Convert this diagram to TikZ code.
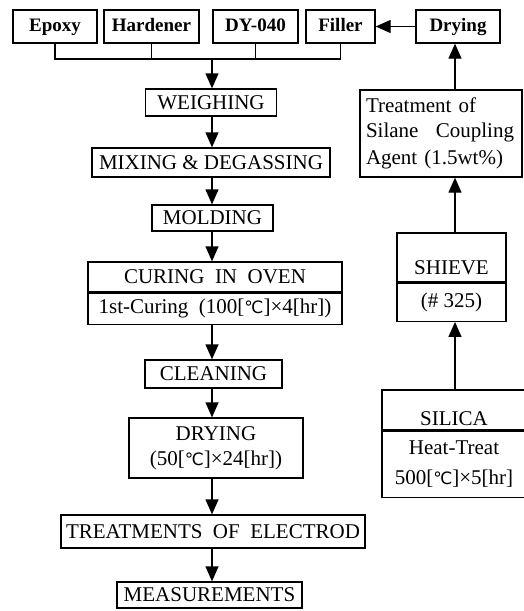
\documentclass[tikz,border=0pt]{standalone}
\usepackage{fontspec}
\setmainfont{Liberation Serif}
\newfontfamily\symfont{DejaVu Sans}
\usetikzlibrary{arrows.meta,positioning}
\newcommand{\degC}{{\symfont\fontsize{17}{17}\selectfont ℃}}

\begin{document}
\begin{tikzpicture}[x=1pt,y=-1pt,
    box/.style={draw,line width=1.3pt,inner sep=0pt,align=center,
      font=\fontsize{21}{25}\selectfont},
    inbox/.style={box,minimum height=33pt,text height=13pt,text depth=4pt,
      font=\bfseries\fontsize{19}{21}\selectfont},
    flow/.style={line width=1.3pt,-{Triangle[length=15pt,width=13pt]}}]
  \useasboundingbox (0,0) rectangle (523,611);
  \coordinate (spine) at (212,0);
  \coordinate (rspine) at (455,0);
  \coordinate (bus) at (212,59);

  % raw materials
  \node[inbox,minimum width=84pt] (epoxy) at (55,26.5) {Epoxy};
  \node[inbox,minimum width=95pt] (hardener) at (151.5,26.5) {Hardener};
  \node[inbox,minimum width=85pt] (dy040) at (255.5,26.5) {DY-040};
  \node[inbox,minimum width=69pt] (filler) at (340.5,26.5) {Filler};
  \node[inbox,minimum width=84pt] (sdry) at (458,26.5) {Drying};

  \draw[line width=1.3pt] (epoxy.south) |- (bus);
  \draw[line width=1.3pt] (filler.south) |- (bus);
  \draw[line width=1.3pt] (hardener.south) -- (hardener.south |- bus);
  \draw[line width=1.3pt] (dy040.south) -- (dy040.south |- bus);
  \draw[flow] (sdry.west) -- (filler.east);

  % main process
  \node[box,minimum width=131pt,minimum height=27pt] (weighing) at (211,102.5) {WEIGHING};
  \node[box,minimum width=238pt,minimum height=29pt] (mixing) at (211,162.5) {MIXING \& DEGASSING};
  \node[box,minimum width=121pt,minimum height=26pt] (molding) at (212.5,218) {MOLDING};
  \node[box,minimum width=254pt,minimum height=30pt] (curing) at (215,277) {CURING~ IN~ OVEN};
  \node[box,minimum width=254pt,minimum height=31pt,below=0pt of curing] (cure1)
    {1st-Curing~~(100[\degC]\texttimes4[hr])};
  \node[box,minimum width=137pt,minimum height=28pt] (cleaning) at (213.5,374) {CLEANING};
  \node[box,minimum width=174pt,minimum height=60pt] (drying) at (216,448)
    {DRYING\\(50[\degC]\texttimes24[hr])};
  \node[box,minimum width=304pt,minimum height=33pt] (electrod) at (213,531.5)
    {TREATMENTS~ OF~ ELECTROD};
  \node[box,minimum width=185pt,minimum height=26pt] (measure) at (209.5,595) {MEASUREMENTS};

  \draw[flow] (bus) -- (weighing.north -| bus);
  \draw[flow] (weighing.south -| spine) -- (mixing.north -| spine);
  \draw[flow] (mixing.south -| spine) -- (molding.north -| spine);
  \draw[flow] (molding.south -| spine) -- (curing.north -| spine);
  \draw[flow] (cure1.south -| spine) -- (cleaning.north -| spine);
  \draw[flow] (cleaning.south -| spine) -- (drying.north -| spine);
  \draw[flow] (drying.south -| spine) -- (electrod.north -| spine);
  \draw[flow] (electrod.south -| spine) -- (measure.north -| spine);

  % filler preparation
  \node[box,minimum width=162pt,minimum height=87pt,text width=150pt,align=left] (silane) at (441,133.5)
    {Treatment of\\\makebox[148pt][l]{Silane\hfill Coupling}\\[2pt]Agent (1.5wt\%)};
  \node[box,minimum width=109pt,text height=37pt,text depth=4pt,inner ysep=4pt] (shieve) at (451.5,257.5) {SHIEVE};
  \node[box,minimum width=109pt,minimum height=38pt,below=0pt of shieve] (mesh) {(\#~325)};
  \node[box,minimum width=144pt,text height=33pt,text depth=3pt,inner ysep=2pt] (silica) at (454,410) {SILICA};
  \node[box,minimum width=144pt,minimum height=66pt,below=0pt of silica] (heat)
    {Heat-Treat\\[5pt]500[\degC]\texttimes5[hr]};

  \draw[flow] (silica.north -| rspine) -- (mesh.south -| rspine);
  \draw[flow] (shieve.north -| rspine) -- (silane.south -| rspine);
  \draw[flow] (silane.north -| rspine) -- (sdry.south -| rspine);
\end{tikzpicture}
\end{document}
